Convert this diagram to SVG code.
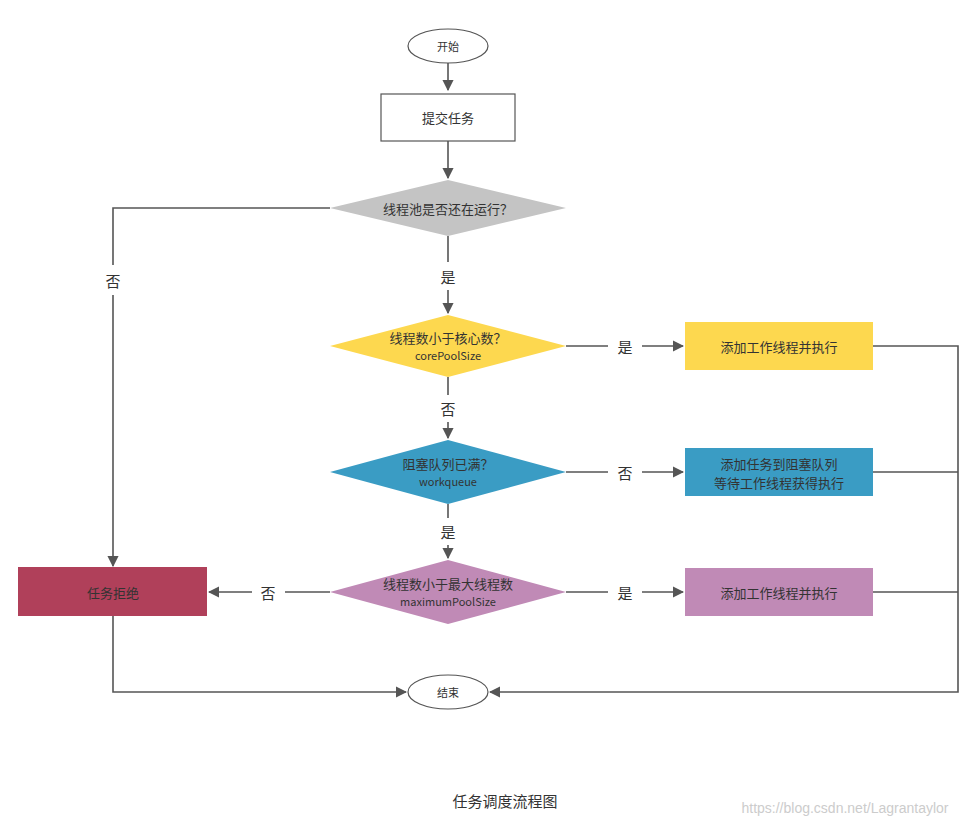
<svg xmlns="http://www.w3.org/2000/svg" width="970" height="825" viewBox="0 0 970 825">
<style>
text{font-family:"Noto Sans CJK SC","Noto Sans",sans-serif;fill:#333;text-anchor:middle;dominant-baseline:central}
.t{font-size:13px}.s{font-size:11px}.l{font-size:15px}
.c{fill:none;stroke:#555;stroke-width:1.6}
</style>
<defs><marker id="a" viewBox="0 0 10 10" refX="9" refY="5" markerWidth="7" markerHeight="7" orient="auto"><path d="M0,0L10,5L0,10z" fill="#555"/></marker></defs>
<rect width="970" height="825" fill="#fff"/>
<g id="connectors">
<path class="c" d="M448,63V90" marker-end="url(#a)"/>
<path class="c" d="M448,141V178" marker-end="url(#a)"/>
<path class="c" d="M448,236V262M448,290V313" marker-end="url(#a)"/>
<path class="c" d="M330,208H113V265M113,295V566" marker-end="url(#a)"/>
<path class="c" d="M566,346H608M642,346H683" marker-end="url(#a)"/>
<path class="c" d="M448,377V395M448,422V438" marker-end="url(#a)"/>
<path class="c" d="M566,472H608M642,472H683" marker-end="url(#a)"/>
<path class="c" d="M448,504V518M448,545V558" marker-end="url(#a)"/>
<path class="c" d="M566,592H608M642,592H683" marker-end="url(#a)"/>
<path class="c" d="M330,592H285M252,592H209" marker-end="url(#a)"/>
<path class="c" d="M113,616V692H406" marker-end="url(#a)"/>
<path class="c" d="M873,346H958V692H490" marker-end="url(#a)"/>
<path class="c" d="M873,472H958M873,592H958"/>
<text x="113" y="280" class="l">否</text>
<text x="448" y="276" class="l">是</text>
<text x="625" y="346" class="l">是</text>
<text x="448" y="408" class="l">否</text>
<text x="625" y="472" class="l">否</text>
<text x="448" y="531" class="l">是</text>
<text x="625" y="592" class="l">是</text>
<text x="268" y="592" class="l">否</text>
</g>
<g id="start"><ellipse cx="448" cy="46" rx="40" ry="17" fill="#fff" stroke="#555" stroke-width="1.2"/><text x="448" y="46" class="s">开始</text></g>
<g id="submit"><rect x="381" y="94" width="134" height="47" fill="#fff" stroke="#555" stroke-width="1.2"/><text x="448" y="117" class="t">提交任务</text></g>
<g id="d1"><path d="M330,208L448,180L566,208L448,236z" fill="#c4c4c4"/><text x="448" y="208" class="t">线程池是否还在运行？</text></g>
<g id="d2"><path d="M330,346L448,315L566,346L448,377z" fill="#fdd84f"/><text x="448" y="337" class="t">线程数小于核心数？</text><text x="448" y="355" class="s">corePoolSize</text></g>
<g id="r1"><rect x="685" y="322" width="188" height="48" fill="#fdd84f"/><text x="779" y="346" class="t">添加工作线程并执行</text></g>
<g id="d3"><path d="M330,472L448,440L566,472L448,504z" fill="#3a9cc4"/><text x="448" y="463" class="t">阻塞队列已满？</text><text x="448" y="481" class="s">workqueue</text></g>
<g id="r2"><rect x="685" y="448" width="188" height="48" fill="#3a9cc4"/><text x="779" y="463" class="t">添加任务到阻塞队列</text><text x="779" y="482" class="t">等待工作线程获得执行</text></g>
<g id="d4"><path d="M330,592L448,560L566,592L448,624z" fill="#c08ab6"/><text x="448" y="583" class="t">线程数小于最大线程数</text><text x="448" y="601" class="s">maximumPoolSize</text></g>
<g id="r3"><rect x="685" y="568" width="188" height="48" fill="#c08ab6"/><text x="779" y="592" class="t">添加工作线程并执行</text></g>
<g id="reject"><rect x="18" y="567" width="189" height="49" fill="#b0405a"/><text x="113" y="592" class="t">任务拒绝</text></g>
<g id="end"><ellipse cx="448" cy="692" rx="40" ry="17" fill="#fff" stroke="#555" stroke-width="1.2"/><text x="448" y="692" class="s">结束</text></g>
<text x="505" y="800" class="l">任务调度流程图</text>
<text x="845" y="808" style="font-size:14px;fill:#ccc;font-family:'Liberation Sans',sans-serif">https://blog.csdn.net/Lagrantaylor</text>
</svg>
